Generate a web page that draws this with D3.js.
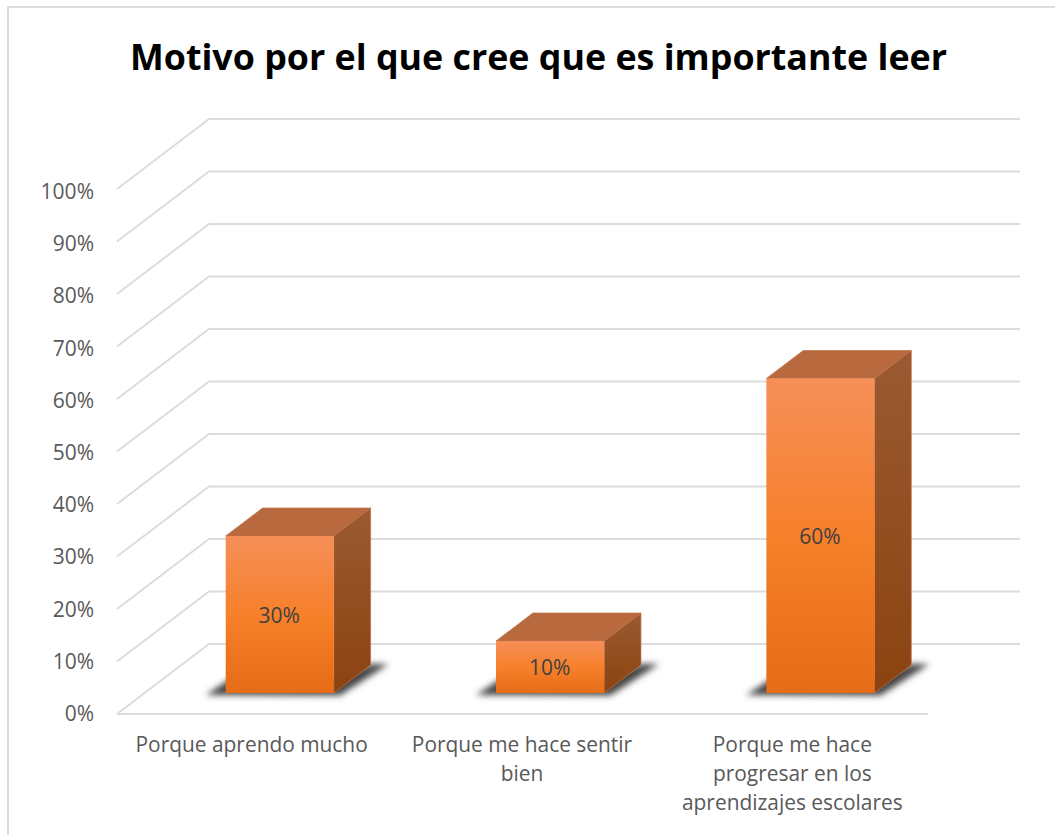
<!DOCTYPE html>
<html><head><meta charset="utf-8">
<script src="https://cdn.jsdelivr.net/npm/d3@7/dist/d3.min.js"></script>
<style>html,body{margin:0;padding:0;background:#fff;overflow:hidden}text{font-family:"Open Sans",sans-serif}</style>
</head><body><script>
const titleText = "Motivo por el que cree que es importante leer";
const categories = ["Porque aprendo mucho","Porque me hace sentir bien","Porque me hace progresar en los aprendizajes escolares"];
const categoryLines = [["Porque aprendo mucho"],["Porque me hace sentir","bien"],["Porque me hace","progresar en los","aprendizajes escolares"]];
const values = [30,10,60];
const ticks = [0,10,20,30,40,50,60,70,80,90,100];

const W=1055,H=835;
const svg=d3.select("body").append("svg").attr("width",W).attr("height",H);
const y=d3.scaleLinear().domain([0,100]).range([714,189]);
const yLabel=d3.scaleLinear().domain([0,100]).range([721,199]);
const dx=d=>92*d, dy=d=>-70*d;
const x=d3.scaleBand().domain(categories).range([117,928]).paddingInner(0).paddingOuter(0);
const barW=x.bandwidth()*0.4;
const defs=svg.append("defs");
function grad(id,stops,x2=0,y2=1){const g=defs.append("linearGradient").attr("id",id).attr("x1",0).attr("y1",0).attr("x2",x2).attr("y2",y2);
 stops.forEach(s=>g.append("stop").attr("offset",s[0]).attr("stop-color",s[1]));}
grad("front",[[0,"#f58f58"],[0.5,"#f7802b"],[1,"#e66c17"]]);
grad("side",[[0,"#9b5a32"],[1,"#8b4310"]]);
defs.append("filter").attr("id","blur").attr("x","-20%").attr("y","-40%").attr("width","140%").attr("height","180%")
 .append("feGaussianBlur").attr("stdDeviation",3.4);

// chart frame
const gc="#dcdcdc";
svg.append("path").attr("d","M8,835V7H1055").attr("fill","none").attr("stroke",gc).attr("stroke-width",2);

// title
svg.append("text").attr("x",538.5).attr("y",70).attr("text-anchor","middle").attr("font-size",35.8).attr("font-weight",700).attr("fill","#000").text(titleText);

// gridlines
const grid=svg.append("g").attr("fill","none").attr("stroke",gc).attr("stroke-width",2);
ticks.forEach(t=>{
  grid.append("path").attr("d",`M117,${y(t)}L${117+dx(1)},${y(t)+dy(1)}H${928+dx(1)}`);
});
grid.append("path").attr("d",`M117,${y(0)}H928`);

// y tick labels
svg.append("g").selectAll("text").data(ticks).join("text")
  .attr("x",94).attr("y",d=>yLabel(d)).attr("text-anchor","end").attr("font-size",21).attr("fill","#595959")
  .text(d=>d+"%");

// bars
const f0=0.3,f1=0.7;
categories.forEach((c,i)=>{
  const x0=x(c)+x.bandwidth()*0.3+dx(f0), x1=x0+barW;
  const yb=y(0)+dy(f0), yt=y(values[i])+dy(f0)+0.5;
  const ox=dx(f1-f0), oy=dy(f1-f0);
  const g=svg.append("g");
  // shadow
  g.append("path").attr("filter","url(#blur)").attr("fill","#454545")
   .attr("d",`M${x0-20},${yb+2}L${x0+6},${yb-15}H${x1}L${x1+ox},${yb+oy-1}H${x1+ox+18}L${x1+6},${yb+2.5}Z`);
  g.append("path").attr("fill","#b86a3e").attr("stroke","#c07448").attr("stroke-width",0.7).attr("d",`M${x0},${yt}L${x0+ox},${yt+oy}H${x1+ox}L${x1},${yt}Z`);
  g.append("path").attr("fill","url(#side)").attr("stroke","#c07448").attr("stroke-width",0.7).attr("d",`M${x1},${yt}L${x1+ox},${yt+oy}V${yb+oy}L${x1},${yb}Z`);
  g.append("rect").attr("x",x0).attr("y",yt).attr("width",barW).attr("height",yb-yt).attr("fill","url(#front)");
  svg.append("text").attr("x",(x0+x1)/2-0.5).attr("y",(yb+yt)/2+8).attr("text-anchor","middle").attr("font-size",21).attr("fill","#404040").text(values[i]+"%");
  const t=svg.append("text").attr("text-anchor","middle").attr("font-size",20.9).attr("fill","#595959");
  categoryLines[i].forEach((l,j)=>t.append("tspan").attr("x",x(c)+x.bandwidth()/2-0.5).attr("y",752+j*29).text(l));
});
</script></body></html>
